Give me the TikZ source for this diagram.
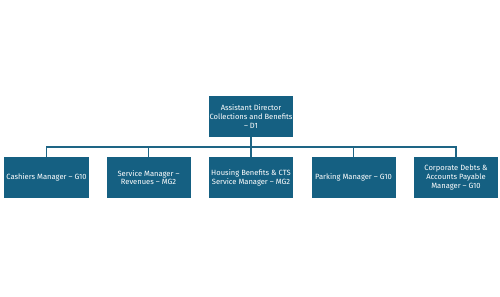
\documentclass[tikz,border=0pt]{standalone}
\usepackage{fontspec}
\setmainfont{Fira Sans}
\usetikzlibrary{positioning}
\definecolor{koyuTeal}{HTML}{156082}
\definecolor{cizgiTeal}{HTML}{1E6585}

\tikzset{
  rolkutu/.style={fill=koyuTeal,text=white,minimum width=84bp,minimum height=41bp,
    align=center,inner sep=0.5bp,font=\fontsize{7.6}{8.8}\selectfont},
  baglanti/.style={cizgiTeal,line width=1.2bp}
}

\begin{document}
\begin{tikzpicture}[x=1bp,y=1bp]
\useasboundingbox (0,0) rectangle (500,296);
\node[rolkutu] (mudur) at (251,179.5) {Assistant Director\\Collections and Benefits\\-- D1};
\node[rolkutu] (vezne) at (46.5,118.5) {Cashiers Manager -- G10};
\node[rolkutu] (gelir) at (148.5,118.5) {Service Manager --\\Revenues -- MG2};
\node[rolkutu] (konut) at (251,118.5) {Housing Benefits \& CTS\\Service Manager -- MG2};
\node[rolkutu] (otopark) at (353.5,118.5) {Parking Manager -- G10};
\node[rolkutu] (borc) at (456,118.5) {Corporate Debts \&\\Accounts Payable\\Manager -- G10};
\coordinate (hat) at (251,149);
\draw[baglanti] (mudur.south) -- (hat);
\foreach \k in {vezne,gelir,konut,otopark,borc}
  \draw[baglanti] (hat) -| (\k.north);
\end{tikzpicture}
\end{document}
